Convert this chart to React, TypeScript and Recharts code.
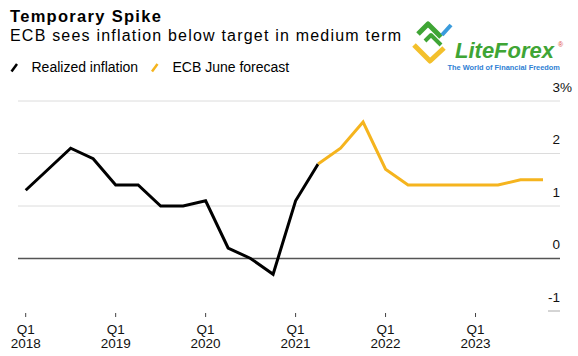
import React from "react";
import { LineChart, Line, XAxis, YAxis, CartesianGrid, ReferenceLine } from "recharts";

const quarters = [
  "Q1 2018", "Q2 2018", "Q3 2018", "Q4 2018",
  "Q1 2019", "Q2 2019", "Q3 2019", "Q4 2019",
  "Q1 2020", "Q2 2020", "Q3 2020", "Q4 2020",
  "Q1 2021", "Q2 2021", "Q3 2021", "Q4 2021",
  "Q1 2022", "Q2 2022", "Q3 2022", "Q4 2022",
  "Q1 2023", "Q2 2023", "Q3 2023", "Q4 2023",
];

const realized: (number | null)[] = [
  1.3, 1.7, 2.1, 1.9,
  1.4, 1.4, 1.0, 1.0,
  1.1, 0.2, 0.0, -0.3,
  1.1, 1.8, null, null,
  null, null, null, null,
  null, null, null, null,
];

const forecast: (number | null)[] = [
  null, null, null, null,
  null, null, null, null,
  null, null, null, null,
  null, 1.8, 2.1, 2.6,
  1.7, 1.4, 1.4, 1.4,
  1.4, 1.4, 1.5, 1.5,
];

const yTicks = [-1, 0, 1, 2, 3];

const data = quarters.map((q, i) => ({ q, realized: realized[i], forecast: forecast[i] }));

const FONT = "'Liberation Sans', Arial, Helvetica, sans-serif";
const YELLOW = "#F5B41E";

const XTick = (props: any) => {
  const { x, payload } = props;
  const v: string = payload.value;
  if (!v.startsWith("Q1")) return null;
  const [qq, yr] = v.split(" ");
  return (
    <g>
      <line x1={x} x2={x} y1={313} y2={317} stroke="#444" strokeWidth={1} />
      <text x={x} y={333.5} textAnchor="middle" fontSize={13.5} fill="#111" fontFamily={FONT}>{qq}</text>
      <text x={x} y={347.5} textAnchor="middle" fontSize={13.5} fill="#111" fontFamily={FONT}>{yr}</text>
    </g>
  );
};

const YTick = (props: any) => {
  const { y, payload } = props;
  const v: number = payload.value;
  return (
    <g>
      <text x={560} y={y - 9.5} textAnchor="end" fontSize={13.5} fill="#111" fontFamily={FONT}>{String(v)}</text>
      {v === 3 ? (
        <text x={560} y={y - 9.5} textAnchor="start" fontSize={13.5} fill="#111" fontFamily={FONT}>%</text>
      ) : null}
    </g>
  );
};

export default function App() {
  return (
    <div style={{ position: "absolute", left: 0, top: 0, width: 578, height: 356, background: "#fff", overflow: "hidden" }}>
      <LineChart width={578} height={356} data={data} margin={{ top: 101, right: 17, left: 18, bottom: 0 }}>
        <CartesianGrid vertical={false} horizontalValues={[1, 2, 3]} stroke="#dcdcdc" strokeWidth={1} />
        <XAxis
          dataKey="q"
          interval={0}
          height={45}
          padding={{ left: 7.7, right: 17 }}
          axisLine={false}
          tickLine={false}
          tick={<XTick />}
        />
        <YAxis
          orientation="right"
          width={1}
          domain={[-1, 3]}
          ticks={yTicks}
          axisLine={false}
          tickLine={false}
          tick={<YTick />}
        />
        <ReferenceLine y={0} stroke="#555" strokeWidth={1.5} />
        <ReferenceLine
          y={-1}
          stroke="#bbb"
          shape={(p: any) => {
            const xr = Math.max(p.x1, p.x2);
            return <line x1={xr - 12} y1={p.y1} x2={xr} y2={p.y2} stroke="#aaa" strokeWidth={1} />;
          }}
        />
        <Line type="linear" dataKey="realized" stroke="#000" strokeWidth={3} dot={false} isAnimationActive={false} connectNulls={false} strokeLinejoin="miter" />
        <Line type="linear" dataKey="forecast" stroke={YELLOW} strokeWidth={3} dot={false} isAnimationActive={false} connectNulls={false} strokeLinejoin="miter" />
      </LineChart>
      <svg width={578} height={85} style={{ position: "absolute", left: 0, top: 0, pointerEvents: "none" }}>
        <text x={10} y={21.5} fontSize={16.5} fontWeight={700} letterSpacing={1.3} fill="#000" fontFamily={FONT}>Temporary Spike</text>
        <text x={10} y={40.5} fontSize={16} letterSpacing={1.2} fill="#000" fontFamily={FONT}>ECB sees inflation below target in medium term</text>
        <line x1={11.5} y1={71.5} x2={17} y2={64} stroke="#000" strokeWidth={2.5} />
        <text x={31.5} y={71.5} fontSize={14} fill="#000" fontFamily={FONT}>Realized inflation</text>
        <line x1={152} y1={71.5} x2={157.5} y2={64} stroke={YELLOW} strokeWidth={2.5} />
        <text x={172.5} y={71.5} fontSize={14} fill="#000" fontFamily={FONT}>ECB June forecast</text>
        {/* logo */}
        <g>
          <polyline points="414,45 430,61 444,48" fill="none" stroke="#F3C02C" strokeWidth={5} strokeLinejoin="round" />
          <polyline points="418,34 428,24 441,37" fill="none" stroke="#3FA535" strokeWidth={5} strokeLinejoin="round" />
          <polyline points="425,41 431,35 441,45" fill="none" stroke="#3FA535" strokeWidth={4} strokeLinejoin="round" />
          <line x1={442} y1={35} x2={451} y2={25} stroke="#3A9BDC" strokeWidth={4} />
          <text x={455} y={57.5} fontSize={22} fontWeight={700} fontStyle="italic" fill="#3FA535" fontFamily={FONT}>LiteForex</text>
          <text x={558} y={47} fontSize={7} fill="#E0463A" fontFamily={FONT}>®</text>
          <text x={447.5} y={69.5} fontSize={7.4} fontWeight={700} fill="#2F7FD4" fontFamily={FONT}>The World of Financial Freedom</text>
        </g>
      </svg>
    </div>
  );
}
